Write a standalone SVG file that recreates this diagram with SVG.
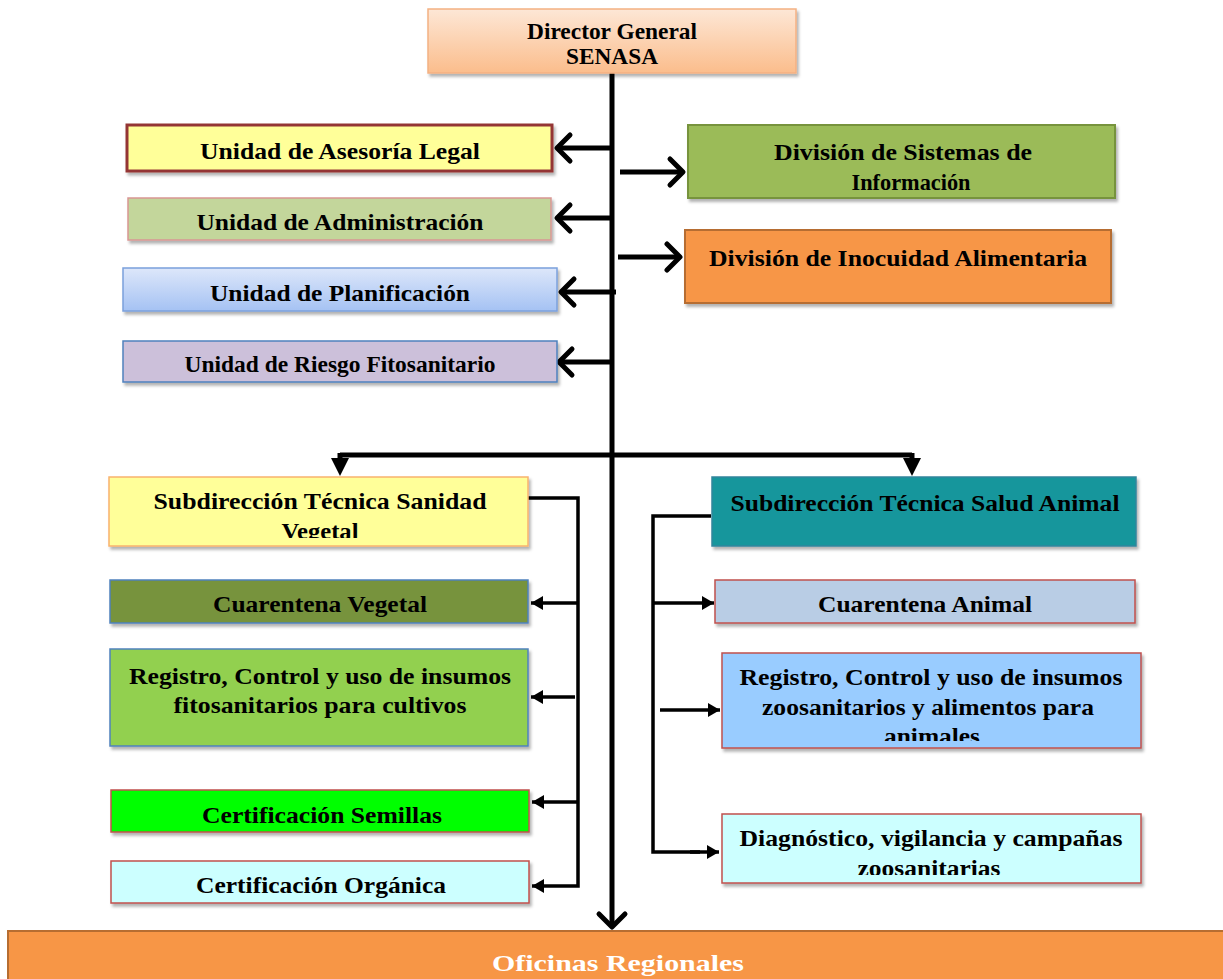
<svg xmlns="http://www.w3.org/2000/svg" width="1223" height="979" viewBox="0 0 1223 979">
<style>
text{font-family:"Liberation Serif","Times New Roman",serif;font-weight:bold;font-size:24px;fill:#000;text-anchor:middle}
.box{stroke-width:1.5}
.ln{stroke:#000;fill:none;stroke-linejoin:miter}
.main{stroke-width:5}
.br{stroke-width:3.5}
</style>
<defs>
<linearGradient id="gDir" x1="0" y1="0" x2="0" y2="1"><stop offset="0" stop-color="#FDE7D6"/><stop offset="1" stop-color="#FBBD8C"/></linearGradient>
<linearGradient id="gPlan" x1="0" y1="0" x2="0" y2="1"><stop offset="0" stop-color="#DDE7FA"/><stop offset="1" stop-color="#A5C2F3"/></linearGradient>
<filter id="sh" x="-5%" y="-20%" width="110%" height="150%"><feDropShadow dx="2" dy="3" stdDeviation="1.8" flood-color="#000" flood-opacity="0.3"/></filter>
<marker id="open" markerUnits="userSpaceOnUse" viewBox="-20 -18 24 36" markerWidth="24" markerHeight="36" refX="0" refY="0" orient="auto"><path d="M-13,-13 L0,0 L-13,13" fill="none" stroke="#000" stroke-width="5" stroke-linecap="round" stroke-linejoin="round"/></marker>
<marker id="fill" markerUnits="userSpaceOnUse" viewBox="-13 -8 14 16" markerWidth="14" markerHeight="16" refX="0" refY="0" orient="auto"><path d="M-12,-7 L0,0 L-12,7 Z" fill="#000"/></marker>
<clipPath id="cSV"><rect x="109" y="477" width="420" height="61"/></clipPath>
<clipPath id="cRR"><rect x="722" y="653" width="420" height="88"/></clipPath>
<clipPath id="cDG"><rect x="722" y="814" width="420" height="61"/></clipPath>
</defs>

<g id="connectors">
<path class="ln main" d="M612,73 V927" marker-end="url(#open)"/>
<path class="ln main" d="M612,148 H557" marker-end="url(#open)"/>
<path class="ln main" d="M620,172 H683" marker-end="url(#open)"/>
<path class="ln main" d="M612,218 H557" marker-end="url(#open)"/>
<path class="ln main" d="M618,257 H680" marker-end="url(#open)"/>
<path class="ln main" d="M616,292 H561" marker-end="url(#open)"/>
<path class="ln main" d="M612,362 H559" marker-end="url(#open)"/>
<path class="ln main" d="M340,455 H912"/>
<path class="ln main" d="M340,453 V462"/>
<path class="ln main" d="M912,453 V462"/>
<path d="M331,458 L349,458 L340,476 Z" fill="#000"/>
<path d="M903,458 L921,458 L912,476 Z" fill="#000"/>
<path class="ln br" d="M528,498 H578 V886 H540"/>
<path class="ln br" d="M578,603 H531" marker-end="url(#fill)"/>
<path class="ln br" d="M575,697 H531" marker-end="url(#fill)"/>
<path class="ln br" d="M578,802 H532" marker-end="url(#fill)"/>
<path class="ln br" d="M542,886 H532" marker-end="url(#fill)"/>
<path class="ln br" d="M711,516 H653 V852 H700"/>
<path class="ln br" d="M653,603 H714" marker-end="url(#fill)"/>
<path class="ln br" d="M660,710 H720" marker-end="url(#fill)"/>
<path class="ln br" d="M690,852 H719" marker-end="url(#fill)"/>
</g>

<g id="n-director">
<rect x="428" y="9" width="368" height="64" fill="url(#gDir)" stroke="#F4B183" class="box" filter="url(#sh)"/>
<text x="612" y="39" font-size="22" textLength="170" lengthAdjust="spacingAndGlyphs">Director General</text>
<text x="612" y="64" font-size="22" textLength="92" lengthAdjust="spacingAndGlyphs">SENASA</text>
</g>

<g id="n-asesoria">
<rect x="127" y="125" width="425" height="46" fill="#FFFF99" stroke="#943634" stroke-width="3" filter="url(#sh)"/>
<text x="340" y="159" textLength="280" lengthAdjust="spacingAndGlyphs">Unidad de Asesoría Legal</text>
</g>

<g id="n-sistemas">
<rect x="688" y="125" width="427" height="73" fill="#9BBB59" stroke="#77933C" stroke-width="2" filter="url(#sh)"/>
<text x="903" y="160" textLength="258" lengthAdjust="spacingAndGlyphs">División de Sistemas de</text>
<text x="911" y="190" textLength="119" lengthAdjust="spacingAndGlyphs">Información</text>
</g>

<g id="n-administracion">
<rect x="128" y="198" width="423" height="42" fill="#C3D69B" stroke="#D99694" class="box" filter="url(#sh)"/>
<text x="340" y="230" textLength="287" lengthAdjust="spacingAndGlyphs">Unidad de Administración</text>
</g>

<g id="n-inocuidad">
<rect x="685" y="230" width="426" height="73" fill="#F79646" stroke="#B66D31" stroke-width="2" filter="url(#sh)"/>
<text x="898" y="266" textLength="378" lengthAdjust="spacingAndGlyphs">División de Inocuidad Alimentaria</text>
</g>

<g id="n-planificacion">
<rect x="123" y="268" width="434" height="43" fill="url(#gPlan)" stroke="#7BA0DC" class="box" filter="url(#sh)"/>
<text x="340" y="301" textLength="260" lengthAdjust="spacingAndGlyphs">Unidad de Planificación</text>
</g>

<g id="n-riesgo">
<rect x="123" y="341" width="434" height="41" fill="#CCC0DA" stroke="#4F81BD" class="box" filter="url(#sh)"/>
<text x="340" y="372" textLength="311" lengthAdjust="spacingAndGlyphs">Unidad de Riesgo Fitosanitario</text>
</g>

<g id="n-sanidad-vegetal">
<rect x="109" y="477" width="419" height="69" fill="#FFFF99" stroke="#F9B36E" class="box" filter="url(#sh)"/>
<g clip-path="url(#cSV)">
<text x="320" y="509" textLength="333" lengthAdjust="spacingAndGlyphs">Subdirección Técnica Sanidad</text>
<text x="320" y="539" textLength="77" lengthAdjust="spacingAndGlyphs">Vegetal</text>
</g>
</g>

<g id="n-salud-animal">
<rect x="712" y="477" width="424" height="69" fill="#17969C" stroke="#31859C" class="box" filter="url(#sh)"/>
<text x="925" y="511" textLength="389" lengthAdjust="spacingAndGlyphs">Subdirección Técnica Salud Animal</text>
</g>

<g id="n-cuarentena-vegetal">
<rect x="110" y="580" width="418" height="43" fill="#77933C" stroke="#4F81BD" class="box" filter="url(#sh)"/>
<text x="320" y="612" textLength="214" lengthAdjust="spacingAndGlyphs">Cuarentena Vegetal</text>
</g>

<g id="n-registro-vegetal">
<rect x="110" y="649" width="418" height="97" fill="#92D050" stroke="#4F81BD" class="box" filter="url(#sh)"/>
<text x="320" y="684" textLength="382" lengthAdjust="spacingAndGlyphs">Registro, Control y uso de insumos</text>
<text x="320" y="713" textLength="293" lengthAdjust="spacingAndGlyphs">fitosanitarios para cultivos</text>
</g>

<g id="n-semillas">
<rect x="111" y="790" width="418" height="42" fill="#00FF00" stroke="#C0504D" class="box" filter="url(#sh)"/>
<text x="322" y="823" textLength="240" lengthAdjust="spacingAndGlyphs">Certificación Semillas</text>
</g>

<g id="n-organica">
<rect x="111" y="861" width="418" height="42" fill="#CCFFFF" stroke="#C0504D" class="box" filter="url(#sh)"/>
<text x="321" y="893" textLength="250" lengthAdjust="spacingAndGlyphs">Certificación Orgánica</text>
</g>

<g id="n-cuarentena-animal">
<rect x="715" y="580" width="420" height="43" fill="#B9CDE5" stroke="#C0504D" class="box" filter="url(#sh)"/>
<text x="925" y="612" textLength="214" lengthAdjust="spacingAndGlyphs">Cuarentena Animal</text>
</g>

<g id="n-registro-animal">
<rect x="722" y="653" width="419" height="95" fill="#99CCFF" stroke="#C0504D" class="box" filter="url(#sh)"/>
<g clip-path="url(#cRR)">
<text x="931" y="685" textLength="383" lengthAdjust="spacingAndGlyphs">Registro, Control y uso de insumos</text>
<text x="928" y="715" textLength="332" lengthAdjust="spacingAndGlyphs">zoosanitarios y alimentos para</text>
<text x="932" y="744" textLength="96" lengthAdjust="spacingAndGlyphs">animales</text>
</g>
</g>

<g id="n-diagnostico">
<rect x="722" y="814" width="419" height="69" fill="#CCFFFF" stroke="#C0504D" class="box" filter="url(#sh)"/>
<g clip-path="url(#cDG)">
<text x="931" y="846" textLength="383" lengthAdjust="spacingAndGlyphs">Diagnóstico, vigilancia y campañas</text>
<text x="929" y="876" textLength="143" lengthAdjust="spacingAndGlyphs">zoosanitarias</text>
</g>
</g>

<g id="n-oficinas">
<rect x="8" y="931" width="1225" height="60" fill="#F79646" stroke="#B66D31" stroke-width="2"/>
<text x="618" y="971" font-size="27" style="fill:#FFFFFF" textLength="252" lengthAdjust="spacingAndGlyphs">Oficinas Regionales</text>
</g>
</svg>
